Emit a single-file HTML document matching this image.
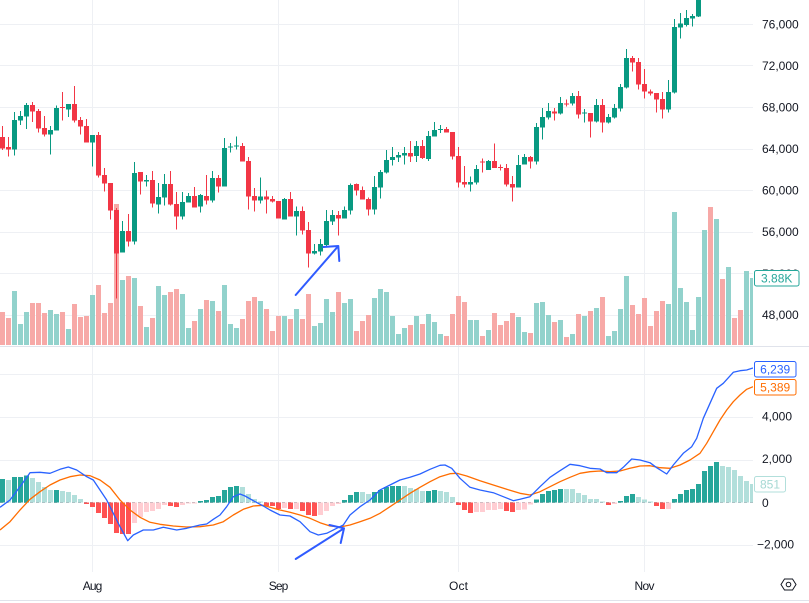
<!DOCTYPE html>
<html><head><meta charset="utf-8"><style>
html,body{margin:0;padding:0;background:#fff;}
svg{display:block;}
text{font-family:"Liberation Sans",sans-serif;font-size:12px;fill:#131722;}
</style></head><body>
<svg width="809" height="603" viewBox="0 0 809 603" xmlns="http://www.w3.org/2000/svg">
<defs>
<clipPath id="cp"><rect x="0" y="0" width="753" height="346"/></clipPath>
<clipPath id="cm"><rect x="0" y="347" width="753" height="225"/></clipPath>
</defs>
<rect width="809" height="603" fill="#fff"/>
<!-- grid -->
<g stroke="#eef0f4" stroke-width="1">
<path d="M0 24.5H753M0 65.5H753M0 107.5H753M0 149.5H753M0 190.5H753M0 232.5H753M0 273.5H753M0 315.5H753"/>
<path d="M0 374.5H753M0 417.5H753M0 460.5H753M0 545.5H753"/>
<path d="M92.5 0V572M278.5 0V572M458.5 0V572M644.5 0V572"/>
</g>
<line x1="0" y1="346.5" x2="809" y2="346.5" stroke="#e0e3eb"/>
<line x1="0" y1="600.5" x2="809" y2="600.5" stroke="#e0e3eb"/>

<g clip-path="url(#cp)" shape-rendering="crispEdges">
<!-- volume green -->
<g fill="#92d2cc">
<rect x="12" y="291" width="5" height="54"/><rect x="18" y="324" width="5" height="21"/><rect x="24" y="312" width="5" height="33"/><rect x="48" y="310" width="5" height="35"/><rect x="54" y="314" width="5" height="31"/><rect x="66" y="329" width="5" height="16"/><rect x="90" y="295" width="5" height="50"/><rect x="120" y="280" width="5" height="65"/><rect x="132" y="278" width="5" height="67"/><rect x="144" y="327" width="5" height="18"/><rect x="156" y="286" width="5" height="59"/><rect x="162" y="295" width="5" height="50"/><rect x="180" y="294" width="5" height="51"/><rect x="186" y="328" width="5" height="17"/><rect x="198" y="309" width="5" height="36"/><rect x="210" y="301" width="5" height="44"/><rect x="222" y="285" width="5" height="60"/><rect x="228" y="324" width="5" height="21"/><rect x="234" y="328" width="5" height="17"/><rect x="258" y="301" width="5" height="44"/><rect x="282" y="316" width="5" height="29"/><rect x="294" y="309" width="5" height="36"/><rect x="312" y="326" width="5" height="19"/><rect x="318" y="323" width="5" height="22"/><rect x="324" y="299" width="5" height="46"/><rect x="330" y="312" width="5" height="33"/><rect x="342" y="303" width="5" height="42"/><rect x="348" y="299" width="5" height="46"/><rect x="372" y="298" width="5" height="47"/><rect x="378" y="289" width="5" height="56"/><rect x="384" y="292" width="5" height="53"/><rect x="390" y="316" width="5" height="29"/><rect x="396" y="334" width="5" height="11"/><rect x="402" y="328" width="5" height="17"/><rect x="414" y="316" width="5" height="29"/><rect x="426" y="314" width="5" height="31"/><rect x="432" y="322" width="5" height="23"/><rect x="438" y="334" width="5" height="11"/><rect x="468" y="320" width="5" height="25"/><rect x="474" y="320" width="5" height="25"/><rect x="486" y="330" width="5" height="15"/><rect x="516" y="317" width="5" height="28"/><rect x="522" y="332" width="5" height="13"/><rect x="534" y="303" width="5" height="42"/><rect x="540" y="302" width="5" height="43"/><rect x="546" y="315" width="5" height="30"/><rect x="558" y="320" width="5" height="25"/><rect x="570" y="334" width="5" height="11"/><rect x="582" y="316" width="5" height="29"/><rect x="594" y="308" width="5" height="37"/><rect x="606" y="336" width="5" height="9"/><rect x="612" y="331" width="5" height="14"/><rect x="618" y="309" width="5" height="36"/><rect x="624" y="276" width="5" height="69"/><rect x="666" y="304" width="5" height="41"/><rect x="672" y="212" width="5" height="133"/><rect x="678" y="288" width="5" height="57"/><rect x="684" y="302" width="5" height="43"/><rect x="690" y="330" width="5" height="15"/><rect x="696" y="297" width="5" height="48"/><rect x="702" y="230" width="5" height="115"/><rect x="714" y="219" width="5" height="126"/><rect x="726" y="267" width="5" height="78"/><rect x="744" y="271" width="5" height="74"/><rect x="750" y="278" width="5" height="67"/>
</g>
<!-- volume red -->
<g fill="#f7a9a7">
<rect x="0" y="312" width="5" height="33"/><rect x="6" y="318" width="5" height="27"/><rect x="30" y="303" width="5" height="42"/><rect x="36" y="303" width="5" height="42"/><rect x="42" y="313" width="5" height="32"/><rect x="60" y="312" width="5" height="33"/><rect x="72" y="304" width="5" height="41"/><rect x="78" y="317" width="5" height="28"/><rect x="84" y="316" width="5" height="29"/><rect x="96" y="285" width="5" height="60"/><rect x="102" y="313" width="5" height="32"/><rect x="108" y="303" width="5" height="42"/><rect x="114" y="204" width="5" height="141"/><rect x="126" y="276" width="5" height="69"/><rect x="138" y="306" width="5" height="39"/><rect x="150" y="318" width="5" height="27"/><rect x="168" y="292" width="5" height="53"/><rect x="174" y="289" width="5" height="56"/><rect x="192" y="321" width="5" height="24"/><rect x="204" y="300" width="5" height="45"/><rect x="216" y="311" width="5" height="34"/><rect x="240" y="319" width="5" height="26"/><rect x="246" y="301" width="5" height="44"/><rect x="252" y="297" width="5" height="48"/><rect x="264" y="309" width="5" height="36"/><rect x="270" y="331" width="5" height="14"/><rect x="276" y="316" width="5" height="29"/><rect x="288" y="319" width="5" height="26"/><rect x="300" y="319" width="5" height="26"/><rect x="306" y="294" width="5" height="51"/><rect x="336" y="292" width="5" height="53"/><rect x="354" y="331" width="5" height="14"/><rect x="360" y="321" width="5" height="24"/><rect x="366" y="315" width="5" height="30"/><rect x="408" y="325" width="5" height="20"/><rect x="420" y="324" width="5" height="21"/><rect x="444" y="336" width="5" height="9"/><rect x="450" y="314" width="5" height="31"/><rect x="456" y="296" width="5" height="49"/><rect x="462" y="302" width="5" height="43"/><rect x="480" y="336" width="5" height="9"/><rect x="492" y="313" width="5" height="32"/><rect x="498" y="325" width="5" height="20"/><rect x="504" y="321" width="5" height="24"/><rect x="510" y="313" width="5" height="32"/><rect x="528" y="333" width="5" height="12"/><rect x="552" y="322" width="5" height="23"/><rect x="564" y="337" width="5" height="8"/><rect x="576" y="314" width="5" height="31"/><rect x="588" y="311" width="5" height="34"/><rect x="600" y="297" width="5" height="48"/><rect x="630" y="305" width="5" height="40"/><rect x="636" y="314" width="5" height="31"/><rect x="642" y="298" width="5" height="47"/><rect x="648" y="326" width="5" height="19"/><rect x="654" y="311" width="5" height="34"/><rect x="660" y="301" width="5" height="44"/><rect x="708" y="207" width="5" height="138"/><rect x="720" y="279" width="5" height="66"/><rect x="732" y="318" width="5" height="27"/><rect x="738" y="310" width="5" height="35"/>
</g>
<!-- green candles -->
<path stroke="#089981" stroke-width="1" fill="none" d="M14.5 112V155.7M20.5 111V125M26.5 103V129M50.5 126V154.7M56.5 105.3V130.7M68.5 104V117M92.5 135V166.7M122.5 221V252.7M134.5 162V244.7M146.5 175V186.7M158.5 183V213.7M164.5 174V205.7M182.5 192V219.7M188.5 193V202.7M200.5 194V212.7M212.5 171V202.7M224.5 138V186.7M230.5 143V152.7M236.5 136.7V149.7M260.5 177.7V203.7M284.5 198V219.7M296.5 206.7V235.7M314.5 244V254.7M320.5 239V255.7M326.5 210V246.7M332.5 210V225M344.5 206.7V218.7M350.5 183.3V214.7M374.5 176V214.7M380.5 170V198.7M386.5 150V173.7M392.5 147V165.3M398.5 152V162M404.5 147V164.7M416.5 141V162M428.5 131V161M434.5 122V136.7M440.5 125V133M470.5 176.7V191.7M476.5 165V184.7M488.5 160V170M518.5 155V187.7M524.5 154V164.7M536.5 123V164.7M542.5 108V139.7M548.5 103V119.7M560.5 97V114.7M572.5 93V105.7M584.5 109V122.7M596.5 99V122.7M608.5 114V123.7M614.5 104V118.7M620.5 84V111.7M626.5 49V88.7M668.5 80V112.7M674.5 19V93.7M680.5 13V38.7M686.5 10V26.7M692.5 14V26.7M698.5 0V17"/>
<g fill="#089981">
<rect x="12" y="120" width="5" height="29.7"/><rect x="18" y="116" width="5" height="4.7"/><rect x="24" y="105" width="5" height="11.7"/><rect x="48" y="130" width="5" height="4.7"/><rect x="54" y="108" width="5" height="22.7"/><rect x="66" y="104" width="5" height="5.7"/><rect x="90" y="135" width="5" height="7.7"/><rect x="120" y="231" width="5" height="21.7"/><rect x="132" y="173" width="5" height="68.7"/><rect x="144" y="180" width="5" height="1.7"/><rect x="156" y="197" width="5" height="7.7"/><rect x="162" y="184" width="5" height="13.7"/><rect x="180" y="202" width="5" height="14.7"/><rect x="186" y="196" width="5" height="6.7"/><rect x="198" y="195" width="5" height="11.7"/><rect x="210" y="178" width="5" height="22.7"/><rect x="222" y="148" width="5" height="38.7"/><rect x="228" y="146.7" width="5" height="1"/><rect x="234" y="145.7" width="5" height="1"/><rect x="258" y="196.7" width="5" height="4"/><rect x="282" y="199" width="5" height="20.7"/><rect x="294" y="211" width="5" height="5.7"/><rect x="312" y="251" width="5" height="2.7"/><rect x="318" y="244" width="5" height="7.7"/><rect x="324" y="221" width="5" height="24"/><rect x="330" y="215" width="5" height="6.7"/><rect x="342" y="210" width="5" height="8.7"/><rect x="348" y="185" width="5" height="25.7"/><rect x="372" y="187" width="5" height="22.7"/><rect x="378" y="172" width="5" height="15.7"/><rect x="384" y="160" width="5" height="12.7"/><rect x="390" y="157" width="5" height="3"/><rect x="396" y="155" width="5" height="2.7"/><rect x="402" y="153" width="5" height="2.7"/><rect x="414" y="146" width="5" height="10"/><rect x="426" y="136" width="5" height="23"/><rect x="432" y="130" width="5" height="6.7"/><rect x="438" y="129" width="5" height="1"/><rect x="468" y="182" width="5" height="2.7"/><rect x="474" y="169" width="5" height="13.7"/><rect x="486" y="161" width="5" height="9"/><rect x="516" y="165" width="5" height="22.7"/><rect x="522" y="157" width="5" height="7.7"/><rect x="534" y="127" width="5" height="34.7"/><rect x="540" y="117" width="5" height="10.7"/><rect x="546" y="111" width="5" height="6.7"/><rect x="558" y="103" width="5" height="10.7"/><rect x="570" y="96" width="5" height="7.7"/><rect x="582" y="112.7" width="5" height="1"/><rect x="594" y="105" width="5" height="16.7"/><rect x="606" y="117" width="5" height="5.7"/><rect x="612" y="108" width="5" height="9.7"/><rect x="618" y="87" width="5" height="21.7"/><rect x="624" y="58" width="5" height="29.7"/><rect x="666" y="92" width="5" height="17.7"/><rect x="672" y="27" width="5" height="65.7"/><rect x="678" y="23.7" width="5" height="4"/><rect x="684" y="18" width="5" height="7"/><rect x="690" y="16" width="5" height="2.3"/><rect x="696" y="0" width="5" height="16.7"/>
</g>
<!-- red candles -->
<path stroke="#f23645" stroke-width="1" fill="none" d="M2.5 126V150M8.5 137V156.7M32.5 102V122M38.5 109V132.7M44.5 116V136.7M62.5 92V120.7M74.5 86V122.7M80.5 117V134.7M86.5 119V142.7M98.5 132V177.7M104.5 168V191.7M110.5 183V219.7M116.5 208V298.7M128.5 214V246.7M140.5 172V194.7M152.5 171V207.7M170.5 171V205.7M176.5 192V229.7M194.5 187V207.7M206.5 175V204.7M218.5 175V192.7M242.5 143V161.7M248.5 157V209.7M254.5 188V211.7M266.5 190.7V213.7M272.5 196V202.7M278.5 201V218.7M290.5 192V216.7M302.5 206.7V234.7M308.5 222V267.7M338.5 211V235.7M356.5 183.3V195.7M362.5 186.7V199.7M368.5 197.7V215.7M410.5 141V162M422.5 140V159M446.5 127V132.7M452.5 132V159.7M458.5 147V187.7M464.5 166V187.7M482.5 158.3V172.7M494.5 143.7V168M500.5 164.3V170.7M506.5 164V186.7M512.5 176V201.7M530.5 156V168.7M554.5 108V120.7M566.5 99.7V106.7M578.5 91V118.7M590.5 113V137.7M602.5 99V132.7M632.5 56V71.7M638.5 58V89.7M644.5 69V98.7M650.5 89.7V95.7M656.5 93V112.7M662.5 92V118.7"/>
<g fill="#f23645">
<rect x="0" y="137" width="5" height="11.7"/><rect x="6" y="147" width="5" height="2.7"/><rect x="30" y="105" width="5" height="6.7"/><rect x="36" y="111" width="5" height="17.7"/><rect x="42" y="128" width="5" height="6.7"/><rect x="60" y="107" width="5" height="1"/><rect x="72" y="104" width="5" height="16.7"/><rect x="78" y="120" width="5" height="6.7"/><rect x="84" y="126" width="5" height="16.7"/><rect x="96" y="135" width="5" height="40.7"/><rect x="102" y="175" width="5" height="8.7"/><rect x="108" y="183" width="5" height="27.7"/><rect x="114" y="210" width="5" height="43.7"/><rect x="126" y="231" width="5" height="10.7"/><rect x="138" y="172" width="5" height="9.7"/><rect x="150" y="180" width="5" height="23.7"/><rect x="168" y="184" width="5" height="20.7"/><rect x="174" y="204" width="5" height="12.7"/><rect x="192" y="196" width="5" height="11.7"/><rect x="204" y="196" width="5" height="4.7"/><rect x="216" y="178" width="5" height="8.7"/><rect x="240" y="146" width="5" height="15.7"/><rect x="246" y="161" width="5" height="35.7"/><rect x="252" y="196" width="5" height="4.7"/><rect x="264" y="196.7" width="5" height="3"/><rect x="270" y="199" width="5" height="2.7"/><rect x="276" y="201" width="5" height="17.7"/><rect x="288" y="199" width="5" height="17.7"/><rect x="300" y="211" width="5" height="19.7"/><rect x="306" y="230" width="5" height="23.7"/><rect x="336" y="215" width="5" height="3.7"/><rect x="354" y="184" width="5" height="6.7"/><rect x="360" y="190" width="5" height="9.7"/><rect x="366" y="199" width="5" height="10.7"/><rect x="408" y="153" width="5" height="3.7"/><rect x="420" y="146" width="5" height="12"/><rect x="444" y="129" width="5" height="3.7"/><rect x="450" y="132" width="5" height="24.7"/><rect x="456" y="156" width="5" height="26.7"/><rect x="462" y="182" width="5" height="2.7"/><rect x="480" y="161.5" width="5" height="1"/><rect x="492" y="161" width="5" height="7"/><rect x="498" y="167" width="5" height="1"/><rect x="504" y="168" width="5" height="16.7"/><rect x="510" y="184" width="5" height="3.7"/><rect x="528" y="157" width="5" height="4.7"/><rect x="552" y="111.3" width="5" height="2.4"/><rect x="564" y="103.5" width="5" height="1"/><rect x="576" y="96" width="5" height="18.7"/><rect x="588" y="113" width="5" height="8.7"/><rect x="600" y="105" width="5" height="17.7"/><rect x="630" y="58" width="5" height="4.7"/><rect x="636" y="62" width="5" height="22.7"/><rect x="642" y="84" width="5" height="7.7"/><rect x="648" y="91.7" width="5" height="1.6"/><rect x="654" y="93" width="5" height="6.7"/><rect x="660" y="99" width="5" height="10.7"/>
</g>
</g>
<!-- price arrow drawing -->
<g stroke="#2f5bff" stroke-width="2" fill="none" stroke-linecap="round" stroke-linejoin="round">
<path d="M295.7 295L338.3 246M323.3 247L338.3 246L339.3 261"/>
</g>

<!-- MACD pane -->
<g clip-path="url(#cm)">
<line x1="0" y1="502.5" x2="753" y2="502.5" stroke="#a3a6af" stroke-dasharray="3 3"/>
<g shape-rendering="crispEdges">
<g fill="#26a69a">
<rect x="0" y="479" width="5" height="23.5"/><rect x="12" y="477" width="5" height="25.5"/><rect x="18" y="477" width="5" height="25.5"/><rect x="24" y="475.7" width="5" height="26.8"/><rect x="54" y="490" width="5" height="12.5"/><rect x="198" y="501" width="5" height="1.5"/><rect x="204" y="500" width="5" height="2.5"/><rect x="210" y="497" width="5" height="5.5"/><rect x="216" y="496" width="5" height="6.5"/><rect x="222" y="490" width="5" height="12.5"/><rect x="228" y="487" width="5" height="15.5"/><rect x="234" y="486" width="5" height="16.5"/><rect x="342" y="500" width="5" height="2.5"/><rect x="348" y="495" width="5" height="7.5"/><rect x="354" y="492" width="5" height="10.5"/><rect x="372" y="492" width="5" height="10.5"/><rect x="378" y="490" width="5" height="12.5"/><rect x="384" y="487" width="5" height="15.5"/><rect x="390" y="486" width="5" height="16.5"/><rect x="396" y="486" width="5" height="16.5"/><rect x="426" y="491" width="5" height="11.5"/><rect x="432" y="490" width="5" height="12.5"/><rect x="534" y="499.3" width="5" height="3.2"/><rect x="540" y="494" width="5" height="8.5"/><rect x="546" y="491" width="5" height="11.5"/><rect x="552" y="490" width="5" height="12.5"/><rect x="558" y="489" width="5" height="13.5"/><rect x="618" y="501" width="5" height="1.5"/><rect x="624" y="496" width="5" height="6.5"/><rect x="630" y="494" width="5" height="8.5"/><rect x="672" y="499" width="5" height="3.5"/><rect x="678" y="494" width="5" height="8.5"/><rect x="684" y="490" width="5" height="12.5"/><rect x="690" y="489" width="5" height="13.5"/><rect x="696" y="484" width="5" height="18.5"/><rect x="702" y="471" width="5" height="31.5"/><rect x="708" y="466" width="5" height="36.5"/><rect x="714" y="462" width="5" height="40.5"/>
</g>
<g fill="#b2dfdb">
<rect x="6" y="480" width="5" height="22.5"/><rect x="30" y="478" width="5" height="24.5"/><rect x="36" y="482" width="5" height="20.5"/><rect x="42" y="487" width="5" height="15.5"/><rect x="48" y="490" width="5" height="12.5"/><rect x="60" y="491" width="5" height="11.5"/><rect x="66" y="492" width="5" height="10.5"/><rect x="72" y="495" width="5" height="7.5"/><rect x="78" y="499" width="5" height="3.5"/><rect x="240" y="487" width="5" height="15.5"/><rect x="246" y="494" width="5" height="8.5"/><rect x="252" y="499" width="5" height="3.5"/><rect x="258" y="501.5" width="5" height="1"/><rect x="360" y="492" width="5" height="10.5"/><rect x="366" y="494" width="5" height="8.5"/><rect x="402" y="486" width="5" height="16.5"/><rect x="408" y="488" width="5" height="14.5"/><rect x="414" y="489" width="5" height="13.5"/><rect x="420" y="491" width="5" height="11.5"/><rect x="438" y="491" width="5" height="11.5"/><rect x="444" y="492" width="5" height="10.5"/><rect x="450" y="497" width="5" height="5.5"/><rect x="564" y="489" width="5" height="13.5"/><rect x="570" y="489" width="5" height="13.5"/><rect x="576" y="493" width="5" height="9.5"/><rect x="582" y="495" width="5" height="7.5"/><rect x="588" y="499" width="5" height="3.5"/><rect x="594" y="499" width="5" height="3.5"/><rect x="600" y="501.5" width="5" height="1"/><rect x="636" y="497" width="5" height="5.5"/><rect x="642" y="499.3" width="5" height="3.2"/><rect x="648" y="501.5" width="5" height="1"/><rect x="720" y="466" width="5" height="36.5"/><rect x="726" y="467" width="5" height="35.5"/><rect x="732" y="470" width="5" height="32.5"/><rect x="738" y="476" width="5" height="26.5"/><rect x="744" y="481" width="5" height="21.5"/><rect x="750" y="484" width="5" height="18.5"/>
</g>
<g fill="#ff5252">
<rect x="84" y="502.5" width="5" height="1.5"/><rect x="90" y="502.5" width="5" height="4.5"/><rect x="96" y="502.5" width="5" height="10.5"/><rect x="102" y="502.5" width="5" height="15.5"/><rect x="108" y="502.5" width="5" height="21.5"/><rect x="114" y="502.5" width="5" height="30.5"/><rect x="120" y="502.5" width="5" height="31.5"/><rect x="126" y="502.5" width="5" height="31.5"/><rect x="168" y="502.5" width="5" height="3.5"/><rect x="174" y="502.5" width="5" height="4.5"/><rect x="264" y="502.5" width="5" height="3.5"/><rect x="270" y="502.5" width="5" height="3.5"/><rect x="276" y="502.5" width="5" height="6.5"/><rect x="288" y="502.5" width="5" height="6.5"/><rect x="300" y="502.5" width="5" height="8.5"/><rect x="306" y="502.5" width="5" height="12.5"/><rect x="312" y="502.5" width="5" height="13.5"/><rect x="456" y="502.5" width="5" height="2.5"/><rect x="462" y="502.5" width="5" height="7.5"/><rect x="468" y="502.5" width="5" height="10.5"/><rect x="504" y="502.5" width="5" height="8.5"/><rect x="510" y="502.5" width="5" height="9.5"/><rect x="606" y="502.5" width="5" height="2.5"/><rect x="654" y="502.5" width="5" height="3.5"/><rect x="660" y="502.5" width="5" height="6.5"/>
</g>
<g fill="#ffcdd2">
<rect x="132" y="502.5" width="5" height="20.5"/><rect x="138" y="502.5" width="5" height="14.5"/><rect x="144" y="502.5" width="5" height="9.5"/><rect x="150" y="502.5" width="5" height="8.5"/><rect x="156" y="502.5" width="5" height="6.5"/><rect x="162" y="502.5" width="5" height="2.5"/><rect x="180" y="502.5" width="5" height="2.5"/><rect x="186" y="502.5" width="5" height="1"/><rect x="192" y="502.5" width="5" height="1"/><rect x="282" y="502.5" width="5" height="5.5"/><rect x="294" y="502.5" width="5" height="6.5"/><rect x="318" y="502.5" width="5" height="12.5"/><rect x="324" y="502.5" width="5" height="8.5"/><rect x="330" y="502.5" width="5" height="3.5"/><rect x="336" y="502.5" width="5" height="1.5"/><rect x="474" y="502.5" width="5" height="9.5"/><rect x="480" y="502.5" width="5" height="9.5"/><rect x="486" y="502.5" width="5" height="7.5"/><rect x="492" y="502.5" width="5" height="7.5"/><rect x="498" y="502.5" width="5" height="6.5"/><rect x="516" y="502.5" width="5" height="7.5"/><rect x="522" y="502.5" width="5" height="6.8"/><rect x="528" y="502.5" width="5" height="2.2"/><rect x="612" y="502.5" width="5" height="1.5"/><rect x="666" y="502.5" width="5" height="6.5"/>
</g>
</g>
<polyline fill="none" stroke="#ff6d00" stroke-width="1.3" stroke-linejoin="round" points="0,530 10,521.7 20,510 30,499.3 40,491.7 50,485 60,480 70,476.7 80,475 90,475.7 100,480 110,487.3 120,500 130,510 140,517.3 150,522.3 160,524.3 173.3,526 186.7,527 200,526.7 213.3,525 223.3,521.7 233.3,515 243.3,509.3 253.3,506 263.3,505.3 270,507.3 280,510 290,512.3 300,515 310,518.3 320,522.7 330,526 340,527 350,525 360,521.7 370,518.3 380,513.3 390,506.7 400,500 410,493.3 420,487.3 430,481.7 440,476.7 450,473.7 456.7,473.3 466.7,476 480,480.7 493.3,485 506.7,489.3 520,493.3 530,495 540,491.7 550,486.7 560,481.7 570,477.3 580,473.3 590,471.7 600,471 610,471.7 620,471 630,468.3 640,466 650,465.7 660,467.7 670,468.3 680,465 690,460 700,453.3 706.7,443.3 713.3,431.7 720,420 726.7,410 733.3,401.7 740,395 746.7,389.3 753,386.7"/>
<polyline fill="none" stroke="#2962ff" stroke-width="1.3" stroke-linejoin="round" points="0,507.3 10,500 20,486.7 30,472.7 40,472.3 50,473.3 60,469.3 68.3,467 76.7,470 86.7,476.7 93.3,480 100,490 106.7,500 113.3,513.3 120,526.7 127.7,540.7 133.3,535 143.3,530 153.3,530 163.3,527.3 176.7,530 186.7,528.3 200,525 206.7,524 213.3,519.3 220,515 226.7,506.7 233.3,496.7 240,494 245,496 253.3,500.7 263.3,506 270,510 280,515 290,516 300,521.7 310,531.7 318.3,535 326.7,533.3 336.7,528.3 343.3,525 350,515 360,506.7 370,500 380,490 390,485 400,480 410,477.3 420,474 430,469.3 440,465.3 445,465 451.7,468.3 460,478.3 470,487.3 480,490 493.3,492.7 503.3,496.7 513.3,500.7 520,499.3 530,496.7 540,486.7 550,477.3 560,470.7 570,464.3 580,465.7 590,468.3 600,469 606.7,472.7 616.7,472.7 623.3,467.3 631.7,459 640,460 650,462.7 656.7,467.7 666.7,474 673.3,465 683.3,453.3 691.7,446.7 696.7,438.3 703.3,418.3 710,403.3 716.7,388.3 723.3,383.3 733.3,372.3 740,370.7 746.7,370 753,368"/>
</g>
<!-- macd arrow drawing -->
<g stroke="#2f5bff" stroke-width="2" fill="none" stroke-linecap="round" stroke-linejoin="round">
<path d="M295.7 559L344 528.3M329.4 525L344 528.3L340.7 543"/>
</g>

<!-- price scale labels -->
<text x="762" y="28.5">76,000</text>
<text x="762" y="70">72,000</text>
<text x="762" y="111.5">68,000</text>
<text x="762" y="153">64,000</text>
<text x="762" y="194.5">60,000</text>
<text x="762" y="236">56,000</text>
<text x="762" y="277.8">52,000</text>
<text x="762" y="318.8">48,000</text>
<rect x="754.5" y="270.5" width="44.5" height="15.5" rx="2" fill="#fff" stroke="#26a69a"/>
<text x="776.7" y="282.6" text-anchor="middle" style="fill:#26a69a">3.88K</text>

<!-- macd scale labels -->
<text x="762" y="420.5">4,000</text>
<text x="762" y="462.8">2,000</text>
<text x="762" y="507">0</text>
<text x="757" y="548.7">−2,000</text>
<rect x="754.5" y="361.5" width="41.5" height="15.5" rx="2" fill="#fff" stroke="#2962ff"/>
<text x="775.2" y="373.6" text-anchor="middle" style="fill:#2962ff">6,239</text>
<rect x="754.5" y="379.5" width="41.5" height="15.5" rx="2" fill="#fff" stroke="#ff6d00"/>
<text x="775.2" y="391.6" text-anchor="middle" style="fill:#ff6d00">5,389</text>
<rect x="754.5" y="476.5" width="31" height="15.5" rx="2" fill="#fff" stroke="#b2dfdb"/>
<text x="770" y="488.6" text-anchor="middle" style="fill:#a5d8d3">851</text>

<!-- time axis -->
<text x="92.5" y="590" text-anchor="middle" textLength="19.5">Aug</text>
<text x="278.5" y="590" text-anchor="middle" textLength="19.5">Sep</text>
<text x="458.5" y="590" text-anchor="middle" textLength="19">Oct</text>
<text x="644.5" y="590" text-anchor="middle" textLength="20">Nov</text>
<g fill="none" stroke="#131722" stroke-width="1">
<path d="M781 584.5L784.5 579H792.5L796 584.5L792.5 590H784.5Z"/>
<circle cx="788.5" cy="584.5" r="2.3"/>
</g>
</svg>
</body></html>
